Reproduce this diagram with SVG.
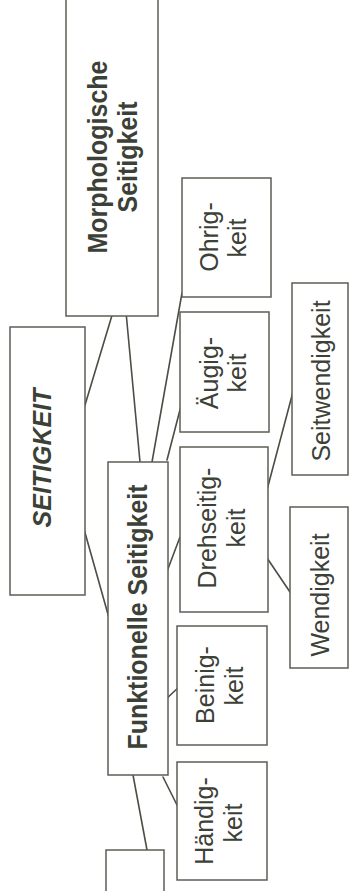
<svg xmlns="http://www.w3.org/2000/svg" width="349" height="891" viewBox="0 0 349 891">
  <style>
    .box { fill: #ffffff; stroke: #5b5f56; stroke-width: 1.5; }
    .lbl { font-family: "Liberation Sans", Arial, sans-serif; font-size: 25px; fill: #3c4137; text-anchor: middle; }
    .b { font-weight: bold; }
    .edge { stroke: #4a4e44; stroke-width: 1.6; fill: none; stroke-linecap: round; }
  </style>
  <rect width="349" height="891" fill="#ffffff"/>

  <!-- connectors -->
  <g id="connectors">
    <line class="edge" x1="82" y1="415" x2="113" y2="312"/>
    <line class="edge" x1="82" y1="522" x2="111" y2="625"/>
    <line class="edge" x1="126" y1="312" x2="140" y2="462"/>
    <line class="edge" x1="182" y1="293" x2="152" y2="462"/>
    <line class="edge" x1="182" y1="402" x2="167" y2="460"/>
    <line class="edge" x1="180" y1="537" x2="163" y2="582"/>
    <line class="edge" x1="179" y1="687" x2="165" y2="700"/>
    <line class="edge" x1="178" y1="807" x2="163" y2="777"/>
    <line class="edge" x1="133" y1="775" x2="147" y2="850"/>
    <line class="edge" x1="263" y1="505" x2="294" y2="388"/>
    <line class="edge" x1="263" y1="552" x2="292" y2="595"/>
  </g>

  <g id="morphologische">
    <rect class="box" x="66" y="-4" width="92" height="320"/>
    <text class="lbl b" transform="translate(107,157) rotate(-90) scale(1,1.12)">Morphologische</text>
    <text class="lbl b" transform="translate(137,157) rotate(-90) scale(1,1.12)">Seitigkeit</text>
  </g>

  <g id="ohrigkeit">
    <rect class="box" x="182" y="178" width="89" height="119"/>
    <text class="lbl" transform="translate(218,237) rotate(-90)">Ohrig-</text>
    <text class="lbl" transform="translate(246,238) rotate(-90)">keit</text>
  </g>

  <g id="seitigkeit">
    <rect class="box" x="10" y="327" width="75" height="268"/>
    <text class="lbl b" font-style="italic" font-size="31" transform="translate(51,458) rotate(-90)">SEITIGKEIT</text>
  </g>

  <g id="augigkeit">
    <rect class="box" x="180" y="312" width="89" height="120"/>
    <text class="lbl" transform="translate(218,373) rotate(-90)">Äugig-</text>
    <text class="lbl" transform="translate(246,373) rotate(-90)">keit</text>
  </g>

  <g id="seitwendigkeit">
    <rect class="box" x="292" y="283" width="56" height="192"/>
    <text class="lbl" font-size="24.5" transform="translate(330,381) rotate(-90)">Seitwendigkeit</text>
  </g>

  <g id="funktionelle">
    <rect class="box" x="108" y="462" width="60" height="313"/>
    <text class="lbl b" font-size="25.5" transform="translate(147,617) rotate(-90) scale(1,1.1)">Funktionelle Seitigkeit</text>
  </g>

  <g id="drehseitigkeit">
    <rect class="box" x="180" y="447" width="88" height="165"/>
    <text class="lbl" transform="translate(216,528) rotate(-90)">Drehseitig-</text>
    <text class="lbl" transform="translate(245,528) rotate(-90)">keit</text>
  </g>

  <g id="wendigkeit">
    <rect class="box" x="290" y="507" width="58" height="161"/>
    <text class="lbl" font-size="24.5" transform="translate(329,595) rotate(-90)">Wendigkeit</text>
  </g>

  <g id="beinigkeit">
    <rect class="box" x="177" y="626" width="90" height="119"/>
    <text class="lbl" transform="translate(214,685) rotate(-90)">Beinig-</text>
    <text class="lbl" transform="translate(243,686) rotate(-90)">keit</text>
  </g>

  <g id="handigkeit">
    <rect class="box" x="177" y="762" width="90" height="118"/>
    <text class="lbl" transform="translate(213,821) rotate(-90)">Händig-</text>
    <text class="lbl" transform="translate(242,823) rotate(-90)">keit</text>
  </g>

  <g id="unten">
    <rect class="box" x="106" y="850" width="58" height="60"/>
  </g>
</svg>
